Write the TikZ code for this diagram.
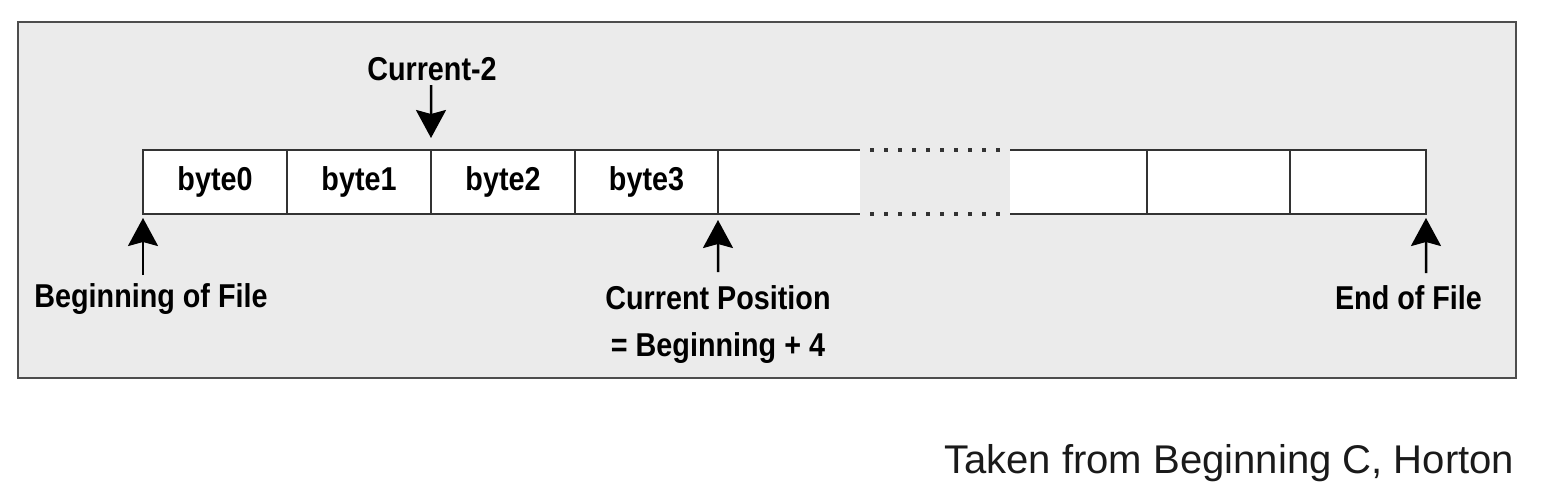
\documentclass[tikz,border=0pt]{standalone}
\usepackage{fontspec}
\setmainfont{Liberation Sans}
\newfontfamily\condfont[FakeStretch=0.87]{Liberation Sans Bold}
\usetikzlibrary{arrows.meta}
\definecolor{panelgray}{HTML}{EBEBEB}
\definecolor{framegray}{HTML}{4D4D4D}
\definecolor{linegray}{HTML}{333333}
\definecolor{credittext}{HTML}{1A1A1A}

\begin{document}
\begin{tikzpicture}[
    cell/.style={minimum width=1.44cm, minimum height=0.64cm, inner sep=0pt, outer sep=0pt,
      fill=white, draw=linegray, line width=0.02cm,
      font=\condfont\fontsize{9.4}{11}\selectfont},
    lbl/.style={inner sep=0pt, anchor=base, font=\condfont\fontsize{9.4}{13.4}\selectfont},
    ptr/.style={-{Stealth[width=0.3cm,length=0.28cm,inset=0.04cm]}, line width=0.025cm, black},
    gap/.style={linegray, line width=0.045cm, dash pattern=on 0.04cm off 0.1cm,
      shorten <=0.1cm, shorten >=0.1cm}
  ]
  \useasboundingbox (0,0) rectangle (15.46,4.9);
  \draw[fill=panelgray, draw=framegray, line width=0.025cm] (0.18,1.12) rectangle (15.16,4.68);

  % open cells first, so the drawn borders stay on top
  \node[cell, draw=none, minimum width=1.42cm] (c4) at (7.89, 3.08){};
  \node[cell, draw=none, minimum width=1.37cm] (c5) at (10.785, 3.08){};
  \draw[linegray, line width=0.02cm] (c4.north west) -- (c4.north east);
  \draw[linegray, line width=0.02cm] (c4.south west) -- (c4.south east);
  \draw[linegray, line width=0.02cm] (c5.north west) -- (c5.north east);
  \draw[linegray, line width=0.02cm] (c5.south west) -- (c5.south east);
  \draw[gap] (c4.north east) -- (c5.north west);
  \draw[gap] (c4.south east) -- (c5.south west);

  \node[cell] (c0) at (2.15, 3.08){byte0};
  \node[cell] (c1) at (3.59, 3.08){byte1};
  \node[cell] (c2) at (5.03, 3.08){byte2};
  \node[cell, minimum width=1.43cm] (c3) at (6.465, 3.08){byte3};
  \node[cell, minimum width=1.43cm] (c6) at (12.185, 3.08){};
  \node[cell, minimum width=1.36cm] (c7) at (13.58, 3.08){};

  \node[lbl] (cur2) at (4.32, 4.10){Current-2};
  \node[lbl] (bof) at (1.51, 1.83){Beginning of File};
  \node[lbl, anchor=north, align=center] (cpos) at (7.18, 2.05){Current Position\\= Beginning + 4};
  \node[lbl] (eof) at (14.085, 1.81){End of File};
  \node[anchor=base east, inner sep=0pt, text=credittext,
    font=\fontsize{11.4}{13}\selectfont] (src) at (15.15, 0.17){Taken from Beginning C, Horton};

  \coordinate (cur2 tail) at (4.31, 4.05);
  \coordinate (bof tail) at (1.43, 2.15);
  \coordinate (cpos tail) at (7.18, 2.18);
  \coordinate (eof tail) at (14.26, 2.17);
  \draw[ptr, shorten >=0.12cm] (cur2 tail) -- (c2.north west);
  \draw[ptr, shorten >=0.04cm] (bof tail) -- (c0.south west);
  \draw[ptr, shorten >=0.06cm] (cpos tail) -- (c4.south west);
  \draw[ptr, shorten >=0.04cm] (eof tail) -- (c7.south east);
\end{tikzpicture}
\end{document}
